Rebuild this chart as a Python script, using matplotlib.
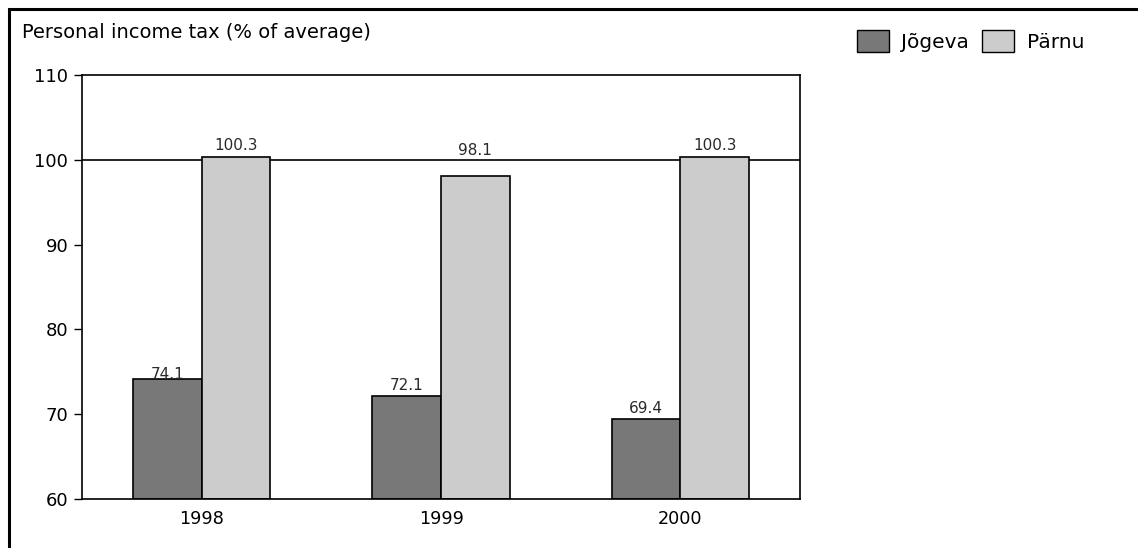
import matplotlib.pyplot as plt
import numpy as np
from matplotlib.patches import Rectangle, Patch

plt.rcParams['font.family'] = ['DejaVu Sans']

years = ['1998', '1999', '2000']
jogeva = [74.1, 72.1, 69.4]
parnu = [100.3, 98.1, 100.3]
# how far each value label sits above its bar, in points
jogeva_lbl_off = [-1.7, 2.2, 2.2]
parnu_lbl_off = [2.9, 13.1, 2.9]

fig = plt.figure(figsize=(11.38, 5.48), dpi=100)
ax = fig.add_axes([0.0721, 0.0894, 0.631, 0.7736])

x = np.arange(len(years))
w = 0.287
ax.bar(x - w / 2, [v - 60 for v in jogeva], w, bottom=60, color='#787878',
       edgecolor='black', linewidth=1.2, zorder=2)
ax.bar(x + w / 2, [v - 60 for v in parnu], w, bottom=60, color='#cccccc',
       edgecolor='black', linewidth=1.2, zorder=2)

for xi, v, off in zip(x - w / 2, jogeva, jogeva_lbl_off):
    ax.annotate(f'{v:.1f}', (xi, v), xytext=(0, off), textcoords='offset points',
                ha='center', va='bottom', fontsize=11, color='#2a2a2a', zorder=3)
for xi, v, off in zip(x + w / 2, parnu, parnu_lbl_off):
    ax.annotate(f'{v:.1f}', (xi, v), xytext=(0, off), textcoords='offset points',
                ha='center', va='bottom', fontsize=11, color='#2a2a2a', zorder=3)

ax.axhline(100, color='black', linewidth=1.2, zorder=1)

ax.set_xlim(-0.5, 2.5)
ax.set_ylim(60, 110)
ax.set_yticks([60, 70, 80, 90, 100, 110])
ax.set_xticks(x)
ax.set_xticklabels(years)
ax.tick_params(axis='y', length=6, width=1, labelsize=13, pad=4)
ax.tick_params(axis='x', length=0, labelsize=12.7, pad=8)
for s in ax.spines.values():
    s.set_linewidth(1.2)

fig.text(22 / 1138, 1 - 33 / 548, 'Personal income tax (% of average)',
         fontsize=14, va='center', ha='left')

handles = [Patch(facecolor='#787878', edgecolor='black', label='Jõgeva'),
           Patch(facecolor='#cccccc', edgecolor='black', label='Pärnu')]
fig.legend(handles=handles, loc='center left', bbox_to_anchor=(857 / 1138, 1 - 41 / 548),
           ncol=2, frameon=False, fontsize=14.5, handlelength=1.6, handleheight=1.3,
           handletextpad=0.6, columnspacing=0.65, borderaxespad=0, borderpad=0)

# outer frame, open to the right and bottom
fig.patches.append(Rectangle((9 / 1138, -0.1), 1.2, 1.1 - 9 / 548,
                             transform=fig.transFigure, fill=False,
                             edgecolor='black', linewidth=2.2))

fig.savefig('out.png', dpi=100)
